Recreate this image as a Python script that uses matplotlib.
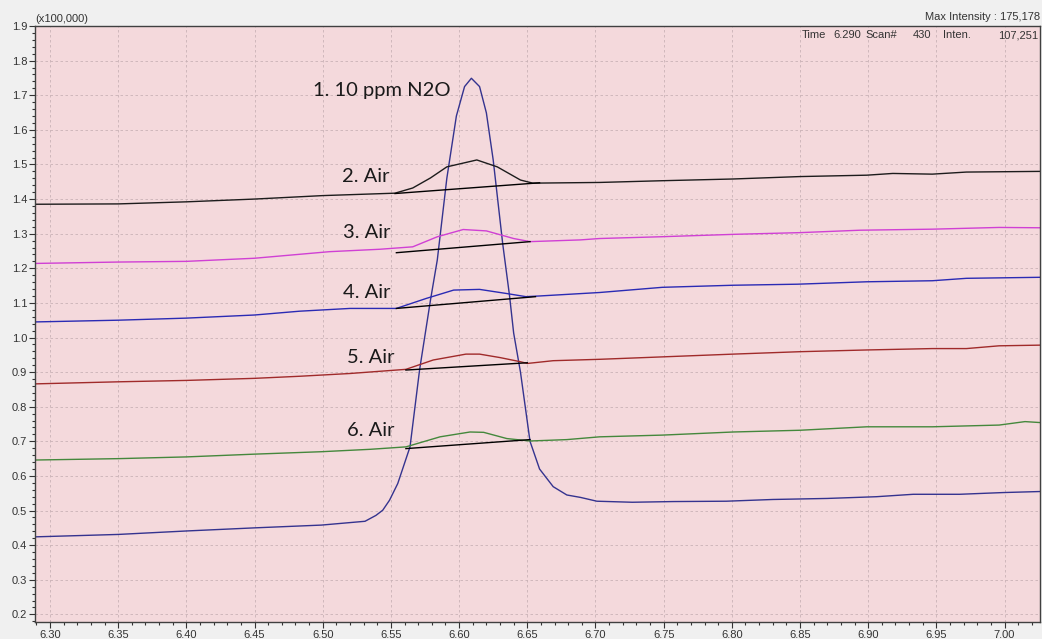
import numpy as np
import matplotlib
matplotlib.use("Agg")
import matplotlib.pyplot as plt
from matplotlib.ticker import MultipleLocator, FormatStrFormatter

n2o_t = [6.289, 6.350, 6.400, 6.450, 6.499, 6.531, 6.539, 6.544, 6.549, 6.555, 6.564, 6.571,
         6.579, 6.584, 6.591, 6.598, 6.604, 6.609, 6.615, 6.620, 6.625, 6.632, 6.637, 6.640,
         6.645, 6.652, 6.659, 6.669, 6.679, 6.689, 6.701, 6.727, 6.757, 6.796, 6.830, 6.870,
         6.906, 6.933, 6.967, 6.999, 7.026]
n2o_v = [0.424, 0.431, 0.441, 0.450, 0.458, 0.469, 0.486, 0.501, 0.530, 0.578, 0.684, 0.906,
         1.108, 1.224, 1.460, 1.640, 1.725, 1.749, 1.725, 1.649, 1.513, 1.270, 1.120, 1.013,
         0.900, 0.700, 0.620, 0.569, 0.545, 0.538, 0.527, 0.524, 0.526, 0.527, 0.532, 0.535,
         0.540, 0.547, 0.547, 0.552, 0.555]

air2_t = [6.289, 6.350, 6.400, 6.450, 6.500, 6.553, 6.566, 6.579, 6.591, 6.613, 6.628, 6.645,
          6.654, 6.703, 6.749, 6.801, 6.850, 6.899, 6.918, 6.947, 6.972, 7.027]
air2_v = [1.385, 1.386, 1.392, 1.400, 1.410, 1.417, 1.432, 1.461, 1.493, 1.513, 1.493, 1.455,
          1.446, 1.448, 1.453, 1.458, 1.465, 1.469, 1.474, 1.472, 1.478, 1.480]

air3_t = [6.289, 6.350, 6.400, 6.450, 6.505, 6.542, 6.566, 6.584, 6.603, 6.620, 6.640, 6.652,
          6.689, 6.703, 6.747, 6.801, 6.850, 6.894, 6.947, 6.996, 7.027]
air3_v = [1.214, 1.218, 1.220, 1.229, 1.248, 1.255, 1.262, 1.291, 1.312, 1.308, 1.286, 1.277,
          1.282, 1.286, 1.291, 1.298, 1.303, 1.310, 1.313, 1.318, 1.317]

air4_t = [6.289, 6.350, 6.400, 6.450, 6.483, 6.520, 6.554, 6.576, 6.596, 6.615, 6.635, 6.649,
          6.659, 6.703, 6.749, 6.801, 6.848, 6.899, 6.947, 6.972, 7.027]
air4_v = [1.045, 1.050, 1.056, 1.065, 1.076, 1.084, 1.084, 1.113, 1.137, 1.139, 1.127, 1.118,
          1.120, 1.130, 1.145, 1.151, 1.154, 1.161, 1.164, 1.171, 1.174]

air5_t = [6.289, 6.350, 6.400, 6.450, 6.483, 6.520, 6.561, 6.581, 6.605, 6.615, 6.630, 6.645,
          6.650, 6.669, 6.703, 6.749, 6.801, 6.850, 6.899, 6.947, 6.972, 6.996, 7.027]
air5_v = [0.866, 0.872, 0.876, 0.882, 0.888, 0.896, 0.908, 0.935, 0.952, 0.952, 0.942, 0.930,
          0.925, 0.933, 0.937, 0.944, 0.952, 0.959, 0.964, 0.968, 0.968, 0.976, 0.978]

air6_t = [6.289, 6.350, 6.400, 6.450, 6.499, 6.535, 6.561, 6.586, 6.608, 6.618, 6.635, 6.652,
          6.679, 6.703, 6.749, 6.801, 6.850, 6.899, 6.947, 6.996, 7.015, 7.027]
air6_v = [0.646, 0.650, 0.655, 0.663, 0.670, 0.677, 0.684, 0.713, 0.727, 0.726, 0.708, 0.701,
          0.705, 0.713, 0.718, 0.727, 0.732, 0.742, 0.742, 0.747, 0.757, 0.754]

# lignes de base d'intégration (t début, t fin) et (v début, v fin)
base_t = [(6.553, 6.659), (6.554, 6.652), (6.554, 6.656), (6.561, 6.650), (6.561, 6.652)]
base_v = [(1.416, 1.447), (1.245, 1.277), (1.084, 1.118), (0.906, 0.927), (0.679, 0.705)]

labels = ["1. 10 ppm N2O", "2. Air", "3. Air", "4. Air", "5. Air", "6. Air"]
label_pos = [(6.493, 1.715), (6.514, 1.464), (6.515, 1.302), (6.515, 1.131),
             (6.518, 0.943), (6.518, 0.732)]

series = [(n2o_t, n2o_v, "#34338f"), (air2_t, air2_v, "#1c1c1c"),
          (air3_t, air3_v, "#d040d4"), (air4_t, air4_v, "#2a2ab4"),
          (air5_t, air5_v, "#a02a2a"), (air6_t, air6_v, "#44883c")]

plt.rcParams["font.family"] = ["Liberation Sans", "DejaVu Sans"]

fig = plt.figure(figsize=(10.42, 6.39), dpi=100, facecolor="#f0f0f0")
ax = fig.add_axes([0.0336, 0.0266, 0.9645, 0.9327])
ax.set_facecolor("#f4d9dc")

for t, v, c in series:
    ax.plot(t, v, color=c, lw=1.0)
for (t0, t1), (v0, v1) in zip(base_t, base_v):
    ax.plot([t0, t1], [v0, v1], color="black", lw=1.0)

for txt, (x, y) in zip(labels, label_pos):
    ax.text(x, y, txt, fontsize=14.5, family=["Lato", "DejaVu Sans"], color="#1a1a1a",
            ha="left", va="center")

ax.set_xlim(6.289, 7.026)
ax.set_ylim(0.178, 1.9)
ax.xaxis.set_major_locator(MultipleLocator(0.05))
ax.xaxis.set_minor_locator(MultipleLocator(0.01))
ax.yaxis.set_major_locator(MultipleLocator(0.1))
ax.yaxis.set_minor_locator(MultipleLocator(0.02))
ax.xaxis.set_major_formatter(FormatStrFormatter("%.2f"))
ax.yaxis.set_major_formatter(FormatStrFormatter("%.1f"))
ax.tick_params(which="major", direction="out", length=4, width=0.8, colors="#333333",
               labelsize=8, pad=1.5)
ax.tick_params(which="minor", direction="out", length=2.5, width=0.8, colors="#333333")
ax.grid(True, which="major", linestyle=(0, (3, 3)), color="#c9b2b6", lw=0.6)
for s in ax.spines.values():
    s.set_color("#404040")
    s.set_linewidth(1.0)

ax.text(0.0, 1.003, "(x100,000)", transform=ax.transAxes, fontsize=8, color="#333333",
        ha="left", va="bottom")
ax.text(1.0, 1.006, "Max Intensity : 175,178", transform=ax.transAxes, fontsize=8,
        color="#333333", ha="right", va="bottom")
for txt, xf, ha in [("Time", 0.763, "left"), ("6.290", 0.794, "left"), ("Scan#", 0.826, "left"),
                    ("430", 0.892, "right"), ("Inten.", 0.903, "left"), ("107,251", 0.998, "right")]:
    ax.text(xf, 0.993, txt, transform=ax.transAxes, fontsize=8, color="#333333",
            ha=ha, va="top")

fig.savefig("out.png", dpi=100, facecolor=fig.get_facecolor())
